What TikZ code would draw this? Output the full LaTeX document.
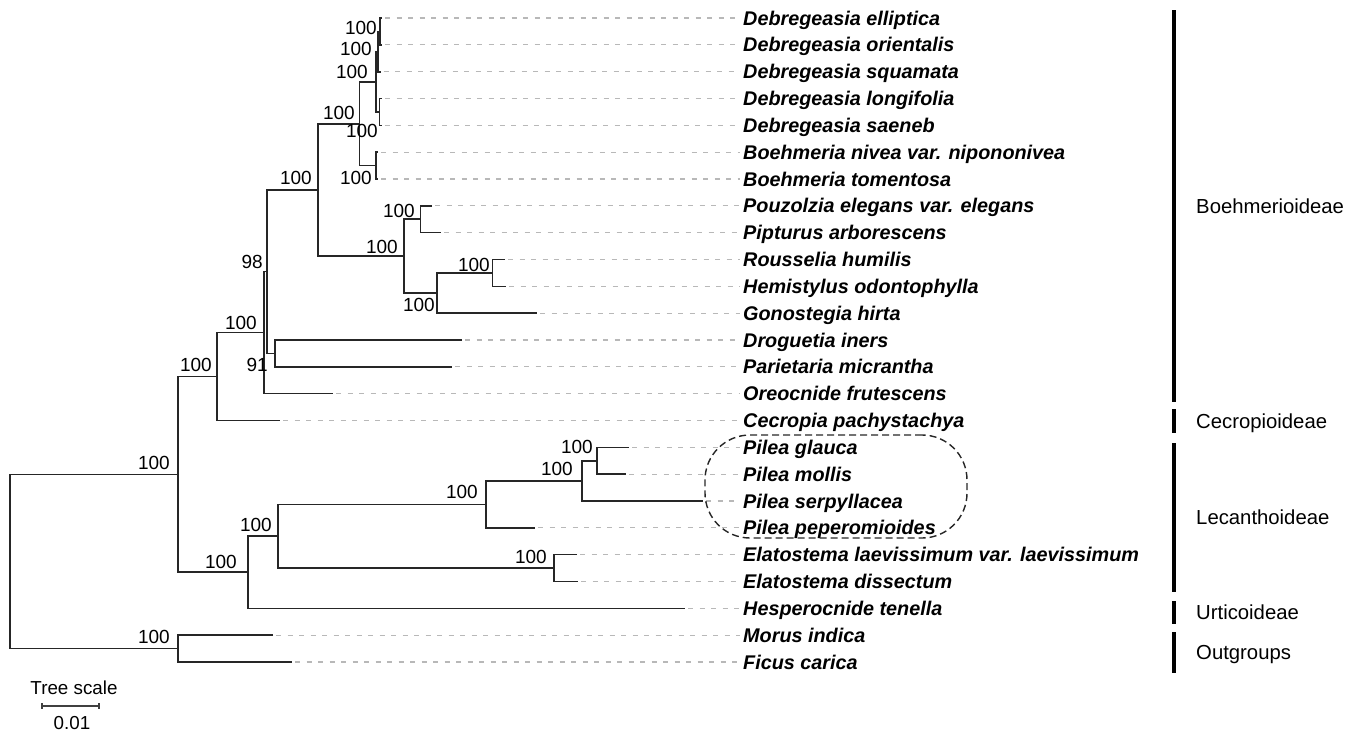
\documentclass[tikz,border=0pt]{standalone}
\usepackage{fontspec}
\setmainfont{Liberation Sans}
\begin{document}
\begin{tikzpicture}[x=1pt,y=-1pt,
  br/.style={line width=1.6pt, draw=black!85, line join=miter},
  leader/.style={draw=black!28, line width=1.2pt, dash pattern=on 5pt off 6.5pt},
  taxon/.style={anchor=west, inner sep=0pt, text height=14.2pt, text depth=0pt, font=\fontsize{19.8}{22}\selectfont\bfseries\itshape},
  bs/.style={anchor=east, inner sep=0pt, text height=13.6pt, text depth=0pt, font=\fontsize{19}{22}\selectfont},
  grp/.style={anchor=west, inner sep=0pt, text height=14.6pt, text depth=0pt, font=\fontsize{20.3}{22}\selectfont},
  bar/.style={line width=4.5pt, draw=black},
  sc/.style={inner sep=0pt, text height=13.4pt, text depth=0pt, font=\fontsize{18.8}{22}\selectfont}]
\useasboundingbox (0,0) rectangle (1359,734);

% leaves
\foreach \n/\yy/\tx/\lab in {
 t0/18.0/382/Debregeasia elliptica,
 t1/44.8/382/Debregeasia orientalis,
 t2/71.7/380.5/Debregeasia squamata,
 t3/98.5/382/Debregeasia longifolia,
 t4/125.3/381.5/Debregeasia saeneb,
 t5/152.2/378/Boehmeria nivea var. nipononivea,
 t6/179.0/378/Boehmeria tomentosa,
 t7/205.8/432/Pouzolzia elegans var. elegans,
 t8/232.6/441/Pipturus arborescens,
 t9/259.5/505/Rousselia humilis,
 t10/286.3/506/Hemistylus odontophylla,
 t11/313.1/537/Gonostegia hirta,
 t12/340.0/462/Droguetia iners,
 t13/366.8/452/Parietaria micrantha,
 t14/393.6/333/Oreocnide frutescens,
 t15/420.5/280/Cecropia pachystachya,
 t16/447.3/629/Pilea glauca,
 t17/474.1/626/Pilea mollis,
 t18/501.0/703/Pilea serpyllacea,
 t19/527.8/535/Pilea peperomioides,
 t20/554.6/577/Elatostema laevissimum var. laevissimum,
 t21/581.4/578/Elatostema dissectum,
 t22/608.3/685/Hesperocnide tenella,
 t23/635.1/273/Morus indica,
 t24/662.0/292/Ficus carica}
{
 \coordinate (\n) at (\tx,\yy);
 \node[taxon] (\n l) at (743,\yy) {\lab};
 \draw[leader] ([xshift=3pt]\n) -- ([xshift=-3pt]\n l.west);
}

% internal nodes
\coordinate (EO) at (380,31.4);
\coordinate (S) at (378,51.5);
\coordinate (LS) at (379.5,111.9);
\coordinate (D) at (376,81.7);
\coordinate (B) at (376,165.6);
\coordinate (A) at (359.5,123.7);
\coordinate (P) at (420.5,219.2);
\coordinate (RH) at (492.5,272.9);
\coordinate (H) at (437,293.0);
\coordinate (N404) at (404,256.1);
\coordinate (N318) at (318,189.9);
\coordinate (N275) at (275,353.4);
\coordinate (N267) at (267,271.6);
\coordinate (N264) at (264,332.6);
\coordinate (A217) at (217,376.6);
\coordinate (GM) at (597,460.7);
\coordinate (PGM) at (582,480.9);
\coordinate (Pi) at (486,504.3);
\coordinate (El) at (554,568.0);
\coordinate (Q) at (278,536.2);
\coordinate (L) at (248,572.2);
\coordinate (In) at (178,474.4);
\coordinate (Out) at (178,648.55);
\coordinate (R) at (10,561.5);

% branches
\draw[br] (t0) -| (EO) |- (t1);
\draw[br] (EO) -| (S) |- (t2);
\draw[br] (t3) -| (LS) |- (t4);
\draw[br] (S) -| (D) |- (LS);
\draw[br] (t5) -| (B) |- (t6);
\draw[br] (D) -| (A) |- (B);
\draw[br] (t7) -| (P) |- (t8);
\draw[br] (t9) -| (RH) |- (t10);
\draw[br] (RH) -| (H) |- (t11);
\draw[br] (P) -| (N404) |- (H);
\draw[br] (A) -| (N318) |- (N404);
\draw[br] (t12) -| (N275) |- (t13);
\draw[br] (N318) -| (N267) |- (N275);
\draw[br] (N267) -| (N264) |- (t14);
\draw[br] (N264) -| (A217) |- (t15);
\draw[br] (t16) -| (GM) |- (t17);
\draw[br] (GM) -| (PGM) |- (t18);
\draw[br] (PGM) -| (Pi) |- (t19);
\draw[br] (t20) -| (El) |- (t21);
\draw[br] (Pi) -| (Q) |- (El);
\draw[br] (Q) -| (L) |- (t22);
\draw[br] (A217) -| (In) |- (L);
\draw[br] (t23) -| (Out) |- (t24);
\draw[br] (In) -| (R) |- (Out);

% bootstrap values
\node[bs] (bIn) at (170,463) {100};
\node[bs] (bOut) at (170,637) {100};
\node[bs] (bA217) at (212,365) {100};
\node[bs] (bN264) at (257,323) {100};
\node[bs] (bN267) at (263,262) {98};
\node[bs] (bN275) at (268,365) {91};
\node[bs] (bN318) at (312,178) {100};
\node[bs] (bA) at (355,113) {100};
\node[bs] (bD) at (368,72) {100};
\node[bs] (bS) at (372,49) {100};
\node[bs] (bEO) at (377,28) {100};
\node[bs] (bLS) at (378,131) {100};
\node[bs] (bB) at (372,178) {100};
\node[bs] (bN404) at (398,247) {100};
\node[bs] (bP) at (415,211) {100};
\node[bs] (bH) at (435,305) {100};
\node[bs] (bRH) at (490,265) {100};
\node[bs] (bL) at (237,562) {100};
\node[bs] (bQ) at (272,525) {100};
\node[bs] (bPi) at (478,492) {100};
\node[bs] (bPGM) at (573,469) {100};
\node[bs] (bGM) at (593,447) {100};
\node[bs] (bEl) at (547,557) {100};

% Pilea outline
\node[draw=black!85, line width=1.4pt, dash pattern=on 7pt off 4pt, rounded corners=45pt,
  minimum width=262pt, minimum height=103pt, inner sep=0pt] (pileabox) at (836,486.5) {};

% group bars
\draw[bar] (1174,10) -- (1174,402);
\draw[bar] (1174,409) -- (1174,433);
\draw[bar] (1174,443) -- (1174,592);
\draw[bar] (1174,601) -- (1174,624);
\draw[bar] (1174,632) -- (1174,673);
\node[grp] (g1) at (1196,206) {Boehmerioideae};
\node[grp] (g2) at (1196,421) {Cecropioideae};
\node[grp] (g3) at (1196,517.5) {Lecanthoideae};
\node[grp] (g4) at (1196,612.5) {Urticoideae};
\node[grp] (g5) at (1196,652.5) {Outgroups};

% scale bar
\node[sc] (scl) at (74,688) {Tree scale};
\node[sc] (scv) at (72,723) {0.01};
\draw[line width=1.2pt, draw=black!75] (42,706) -- (99,706);
\draw[line width=1.2pt, draw=black!75] (42,703) -- (42,709);
\draw[line width=1.2pt, draw=black!75] (99,703) -- (99,709);
\end{tikzpicture}
\end{document}
